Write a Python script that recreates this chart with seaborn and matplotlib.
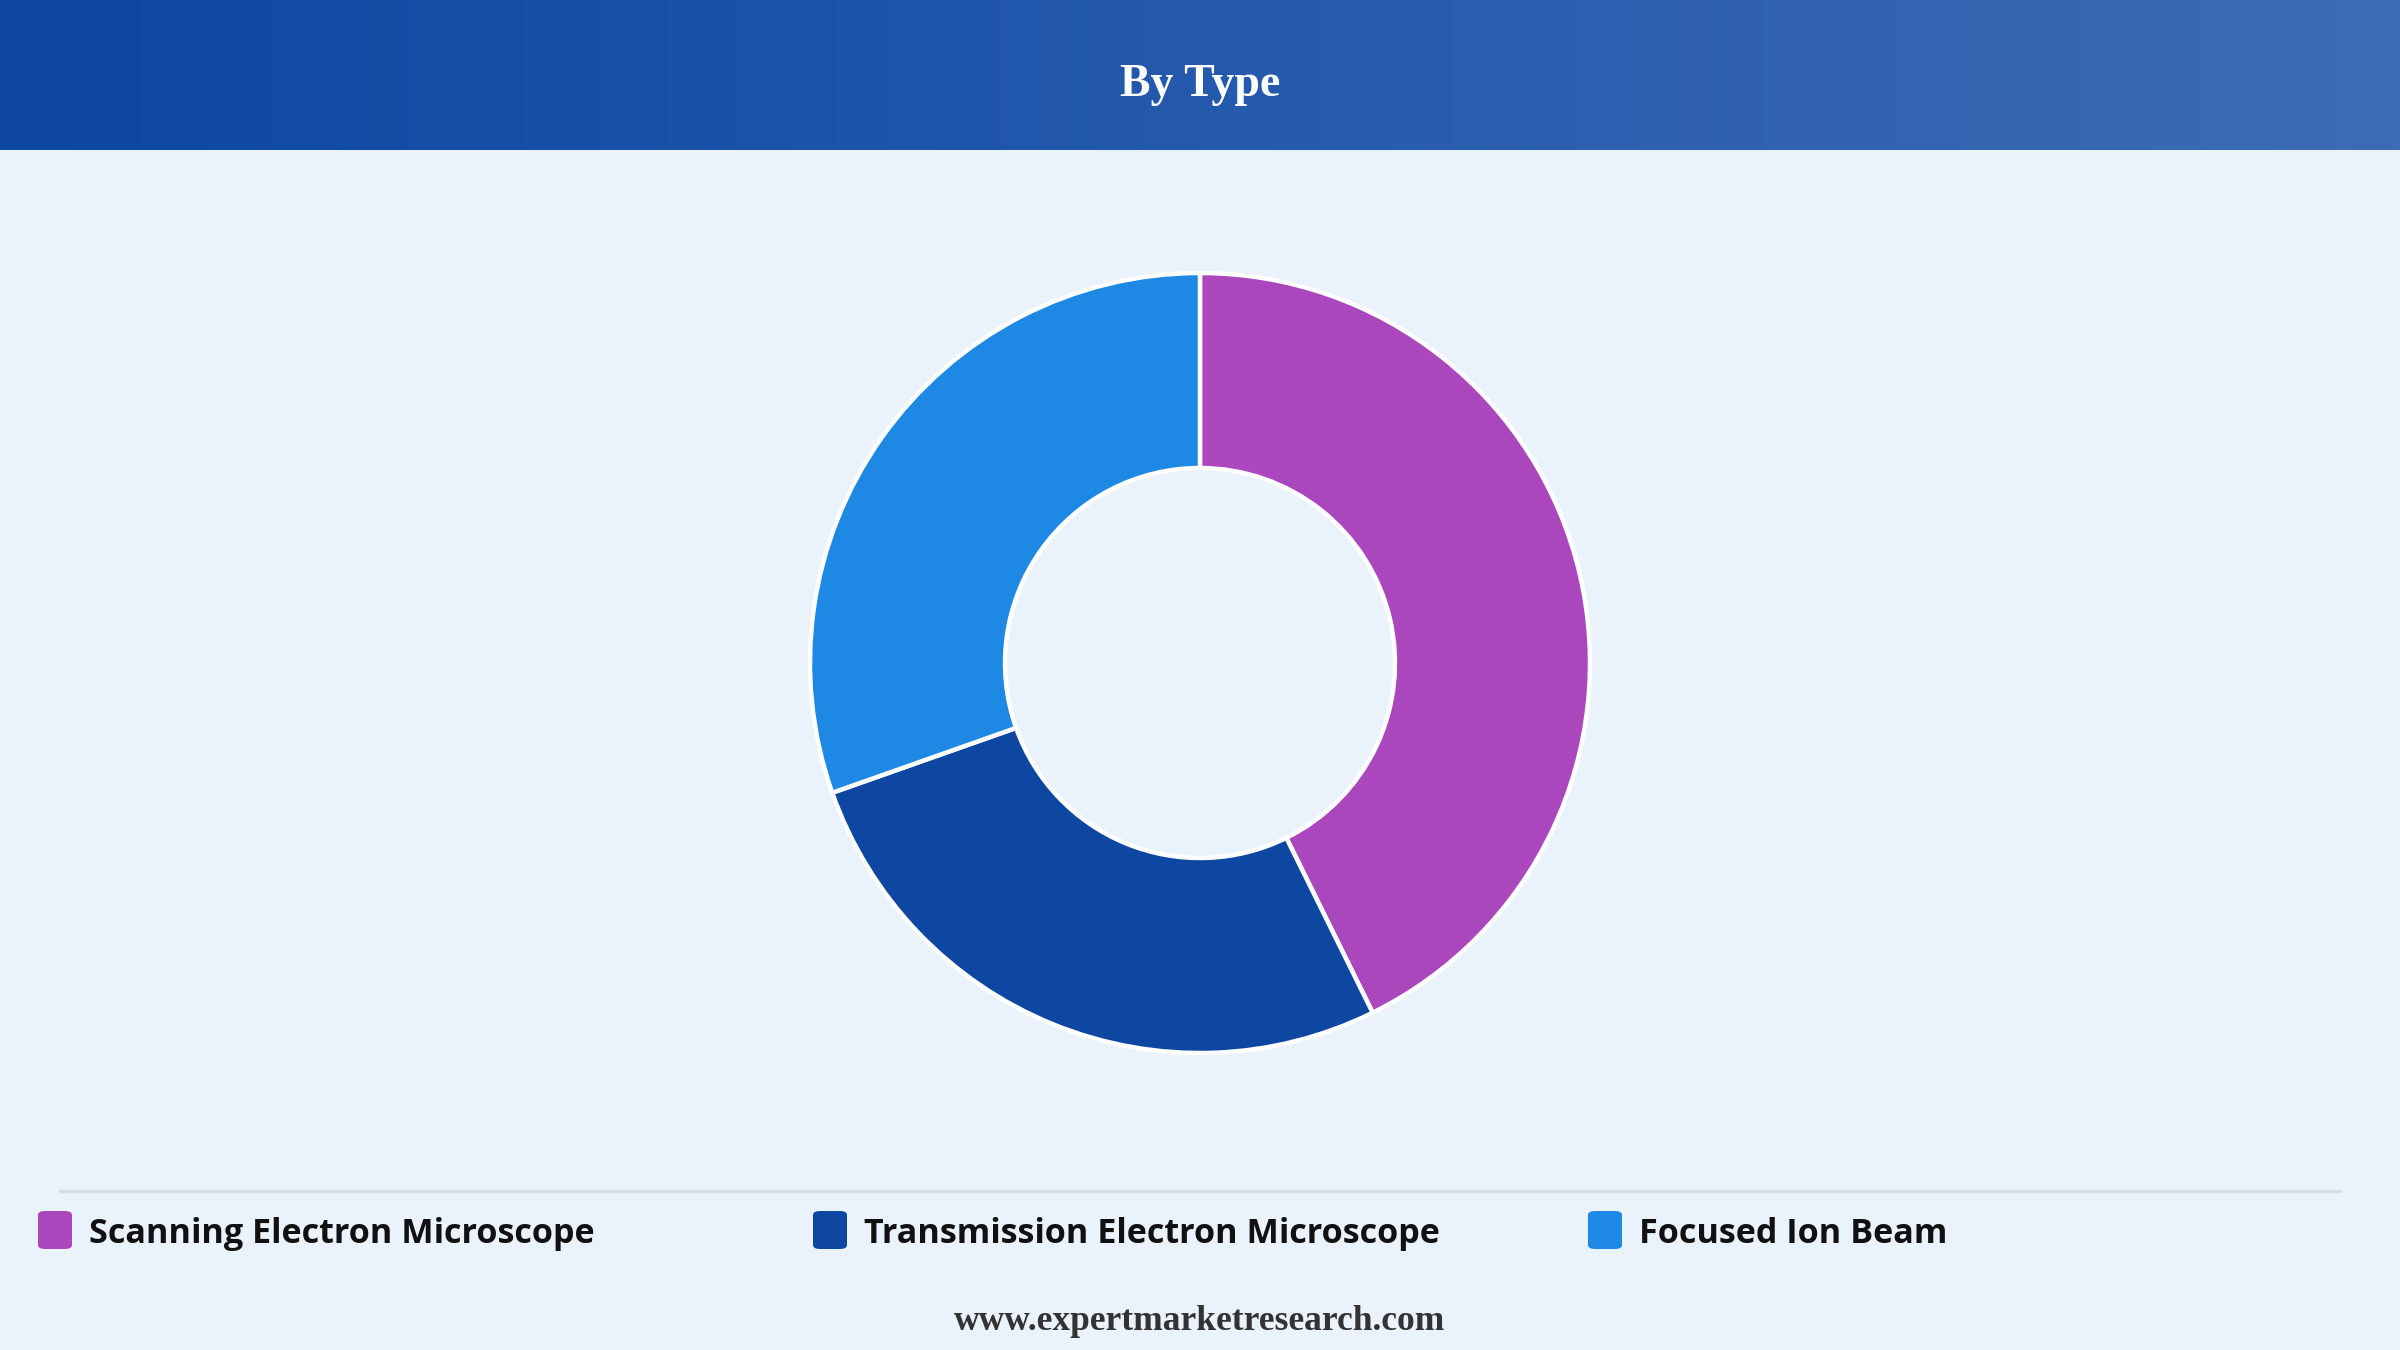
import numpy as np
import matplotlib
matplotlib.use("Agg")
import matplotlib.pyplot as plt
import seaborn as sns
from matplotlib.colors import LinearSegmentedColormap
from matplotlib.patches import FancyBboxPatch
from matplotlib.lines import Line2D

# ------------------------------
# Data
# ------------------------------
title = "By Type"
categories = ["Scanning Electron Microscope", "Transmission Electron Microscope", "Focused Ion Beam"]
shares = [42.7, 26.9, 30.4]
colors = ["#AB47BC", "#0D47A1", "#1E88E5"]
footer = "www.expertmarketresearch.com"

bg = "#EAF2FB"

sns.set_theme(style="white")
plt.rcParams["font.family"] = ["Open Sans", "DejaVu Sans"]

W, H = 2400, 1350
fig = plt.figure(figsize=(24, 13.5), dpi=100)
fig.patch.set_facecolor(bg)

# ------------------------------
# Header band (gradient)
# ------------------------------
head_h = 150 / H
hax = fig.add_axes([0, 1 - head_h, 1, head_h])
grad = np.linspace(0, 1, 512).reshape(1, -1)
cmap = LinearSegmentedColormap.from_list("hdr", ["#0D47A1", "#2459AD", "#3D6CB4"])
hax.imshow(grad, aspect="auto", cmap=cmap, extent=[0, 1, 0, 1])
hax.set_axis_off()
hax.text(0.5, 0.43, title, ha="center", va="center", color="white",
         fontsize=33, fontweight="bold", family=["Liberation Serif", "DejaVu Serif"])

# ------------------------------
# Donut
# ------------------------------
R = 390
cx, cy = 1200, 663
ax = fig.add_axes([(cx - R) / W, 1 - (cy + R) / H, 2 * R / W, 2 * R / H])
ax.set_facecolor(bg)
ax.pie(shares, colors=sns.color_palette(colors), startangle=90, counterclock=False,
       radius=1, wedgeprops=dict(width=0.5, edgecolor="white", linewidth=3.2))
ax.set_xlim(-1.0, 1.0)
ax.set_ylim(-1.0, 1.0)
ax.set_aspect("equal")
ax.set_axis_off()

# ------------------------------
# Legend
# ------------------------------
fig.add_artist(Line2D([60 / W, 2340 / W], [1 - 1191 / H, 1 - 1191 / H],
                      color="#D9DDE3", lw=2.5, transform=fig.transFigure))
sq_w, sq_h = 34, 38
for i, (lab, col) in enumerate(zip(categories, colors)):
    x0 = 38 + i * 775
    y0 = 1230
    fig.add_artist(FancyBboxPatch(((x0) / W, 1 - (y0 + sq_h / 2) / H), sq_w / W, sq_h / H,
                                  boxstyle="round,pad=0,rounding_size=0.003",
                                  transform=fig.transFigure, facecolor=col, edgecolor="none"))
    fig.text((x0 + 51) / W, 1 - (y0 + 4) / H, lab, ha="left", va="center",
             fontsize=24.6, fontweight="bold", color="#111111")

fig.text(0.5, 1 - 1322 / H, footer, ha="center", va="center", color="#333333",
         fontsize=25.5, fontweight="bold", family=["Liberation Serif", "DejaVu Serif"])

fig.savefig("out.png", dpi=100, facecolor=bg)
